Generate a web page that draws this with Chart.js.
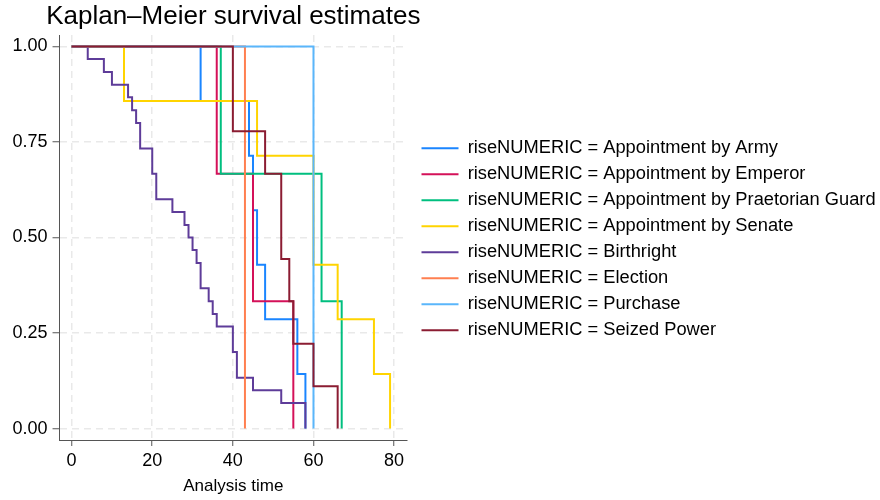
<!DOCTYPE html>
<html>
<head>
<meta charset="utf-8">
<script src="https://cdn.jsdelivr.net/npm/chart.js@4"></script>
<style>
  html, body { margin: 0; padding: 0; background: #fff; }
  #wrap { width: 880px; height: 500px; }
</style>
</head>
<body>
<div id="wrap"><canvas id="km" width="880" height="500"></canvas></div>
<script>
// groups (legend order)
var groups = ['Appointment by Army', 'Appointment by Emperor', 'Appointment by Praetorian Guard',
  'Appointment by Senate', 'Birthright', 'Election', 'Purchase', 'Seized Power'];

// failure times and survival after each drop
var armyTime = [32, 44, 45, 46, 48, 56, 58];
var armySurv = [0.857, 0.714, 0.571, 0.429, 0.286, 0.143, 0];
var emperorTime = [36, 45, 55];
var emperorSurv = [0.667, 0.333, 0];
var guardTime = [37, 62, 67];
var guardSurv = [0.667, 0.333, 0];
var senateTime = [13, 46, 60, 66, 75, 79];
var senateSurv = [0.857, 0.714, 0.429, 0.286, 0.143, 0];
var birthTime = [4, 8, 10, 14, 15, 16, 17, 20, 21, 25, 28, 29, 30, 31, 32, 34, 35, 36, 40, 41, 45, 52, 58];
var birthSurv = [0.967, 0.933, 0.9, 0.867, 0.833, 0.8, 0.733, 0.667, 0.6, 0.567, 0.533, 0.5, 0.467, 0.433,
  0.367, 0.333, 0.3, 0.267, 0.2, 0.133, 0.1, 0.067, 0];
var electionTime = [43];
var electionSurv = [0];
var purchaseTime = [60];
var purchaseSurv = [0];
var seizedTime = [40, 48, 52, 54, 55, 60, 66];
var seizedSurv = [0.778, 0.667, 0.444, 0.333, 0.222, 0.111, 0];

var xTicks = [0, 20, 40, 60, 80];
var yTicks = [0, 0.25, 0.5, 0.75, 1];

var times = [armyTime, emperorTime, guardTime, senateTime, birthTime, electionTime, purchaseTime, seizedTime];
var survs = [armySurv, emperorSurv, guardSurv, senateSurv, birthSurv, electionSurv, purchaseSurv, seizedSurv];
var colors = ['#1a85ff', '#d41159', '#00bf7f', '#ffd400', '#5e3c99', '#ff7f50', '#5ab6fb', '#8b1c32'];

var FONT = 'Liberation Sans, Arial, Helvetica, sans-serif';

// step function corners: hold the previous value up to t, then drop
function kmPoints(t, s) {
  var pts = [{ x: 0, y: 1 }];
  var prev = 1;
  for (var i = 0; i < t.length; i++) {
    pts.push({ x: t[i], y: prev });
    pts.push({ x: t[i], y: s[i] });
    prev = s[i];
  }
  return pts;
}

var datasets = groups.map(function (g, i) {
  return {
    label: 'riseNUMERIC = ' + g,
    data: kmPoints(times[i], survs[i]),
    borderColor: colors[i],
    backgroundColor: colors[i],
    borderWidth: 2,
    pointRadius: 0,
    tension: 0,
    order: groups.length - i // later groups drawn on top, like Stata
  };
});

// title is centred over the plot but must not be squeezed to the plot width
var wideTitle = {
  id: 'wideTitle',
  afterLayout: function (chart) {
    var t = chart.titleBlock;
    var c = (chart.chartArea.left + chart.chartArea.right) / 2;
    t.left = c - 300;
    t.right = c + 300;
    t.width = 600;
  }
};

Chart.defaults.font.family = FONT;
Chart.defaults.color = '#000';

new Chart(document.getElementById('km'), {
  type: 'line',
  data: { datasets: datasets },
  plugins: [wideTitle],
  options: {
    responsive: false,
    animation: false,
    events: [],
    layout: { padding: { top: 0, left: 7.5, right: 0, bottom: 3 } },
    scales: {
      x: {
        type: 'linear',
        min: -3,
        max: 83.2,
        afterBuildTicks: function (s) { s.ticks = xTicks.map(function (v) { return { value: v }; }); },
        ticks: { font: { size: 18 }, color: '#000', padding: 4 },
        grid: { color: '#e9e9e9', lineWidth: 1.5, tickLength: 6, tickColor: '#555', tickWidth: 1 },
        border: { color: '#555', width: 1, dash: [7, 5] },
        title: { display: true, text: 'Analysis time', font: { size: 17 }, color: '#000', padding: { top: 1, bottom: 0 } }
      },
      y: {
        type: 'linear',
        min: -0.03,
        max: 1.03,
        afterBuildTicks: function (s) { s.ticks = yTicks.map(function (v) { return { value: v }; }); },
        ticks: { font: { size: 18 }, color: '#000', padding: 5, callback: function (v) { return v.toFixed(2); } },
        grid: { color: '#e9e9e9', lineWidth: 1.5, tickLength: 7, tickColor: '#555', tickWidth: 1 },
        border: { color: '#555', width: 1, dash: [7, 5] }
      },
      gap: {
        type: 'linear',
        position: 'right',
        display: true,
        grid: { display: false, drawTicks: false },
        ticks: { display: false },
        border: { display: false },
        afterFit: function (s) { s.width = 6.8; }
      }
    },
    plugins: {
      title: {
        display: true,
        text: 'Kaplan–Meier survival estimates',
        fullSize: false,
        font: { size: 26, weight: 'normal' },
        color: '#000',
        padding: { top: 1, bottom: 2.8 }
      },
      legend: {
        position: 'right',
        fullSize: false,
        align: 'center',
        maxWidth: 466.2,
        title: { display: true, text: ' ', font: { size: 2 }, padding: { top: 1.2, bottom: 0 } },
        labels: {
          usePointStyle: true,
          pointStyle: 'line',
          pointStyleWidth: 37,
          padding: 7.7,
          font: { size: 18.3 },
          color: '#000',
          sort: function (a, b) { return a.datasetIndex - b.datasetIndex; }
        }
      },
      tooltip: { enabled: false }
    }
  }
});
</script>
</body>
</html>
